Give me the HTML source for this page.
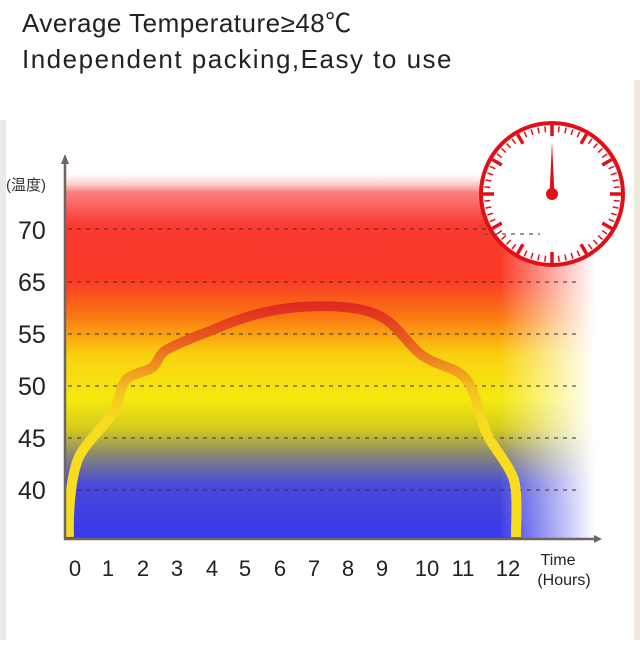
<!DOCTYPE html>
<html><head><style>
body{margin:0;width:640px;height:640px;overflow:hidden;background:#fff;font-family:"Liberation Sans","Noto Sans CJK SC",sans-serif;}
</style></head><body>
<svg width="640" height="640" viewBox="0 0 640 640" xmlns="http://www.w3.org/2000/svg">
<defs>
<linearGradient id="bands" x1="0" y1="0" x2="0" y2="1">
<stop offset="0" stop-color="#fff" stop-opacity="0"/>
<stop offset="0.06" stop-color="#fa8080"/>
<stop offset="0.15" stop-color="#fa3a30"/>
<stop offset="0.30" stop-color="#fb3b26"/>
<stop offset="0.40" stop-color="#fa7a12"/>
<stop offset="0.50" stop-color="#f9d010"/>
<stop offset="0.62" stop-color="#f5ea10"/>
<stop offset="0.70" stop-color="#d6cc1c"/>
<stop offset="0.77" stop-color="#8a8a70"/>
<stop offset="0.85" stop-color="#4a4ad8"/>
<stop offset="1" stop-color="#3838ec"/>
</linearGradient>
<linearGradient id="fade" x1="0" y1="0" x2="1" y2="0">
<stop offset="0" stop-color="#fff" stop-opacity="0"/>
<stop offset="0.82" stop-color="#fff" stop-opacity="0"/>
<stop offset="1" stop-color="#fff" stop-opacity="1"/>
</linearGradient>
<linearGradient id="curve" gradientUnits="userSpaceOnUse" x1="0" y1="305" x2="0" y2="420">
<stop offset="0" stop-color="#e02a20"/>
<stop offset="0.3" stop-color="#e85a20"/>
<stop offset="0.75" stop-color="#f4c420"/>
<stop offset="1" stop-color="#f8dc20"/>
</linearGradient>
</defs>
<rect x="0" y="80" width="640" height="560" fill="#fff"/>
<rect x="0" y="120" width="6" height="520" fill="#e8ece8"/>
<rect x="634" y="80" width="6" height="560" fill="#efe8dc"/>
<text x="22" y="32" font-size="26" fill="#222" letter-spacing="0.5">Average Temperature≥48℃</text>
<text x="22" y="68" font-size="26" fill="#222" letter-spacing="1.5">Independent packing,Easy to use</text>
<rect x="65" y="170" width="530" height="369" fill="url(#bands)"/>
<rect x="65" y="170" width="530" height="369" fill="url(#fade)"/>
<g stroke="#333" stroke-width="1.3" stroke-dasharray="4,5" opacity="0.8">
<line x1="68" y1="229" x2="580" y2="229"/>
<line x1="68" y1="282" x2="580" y2="282"/>
<line x1="68" y1="334" x2="580" y2="334"/>
<line x1="68" y1="386" x2="580" y2="386"/>
<line x1="68" y1="438" x2="580" y2="438"/>
<line x1="68" y1="490" x2="580" y2="490"/>
</g>
<path d="M69,537 C68,505 72,470 80,455 C88,440 100,432 115,410 C120,398 120,385 128,378 C136,372 148,372 154,366 C160,358 160,352 170,348 C185,340 200,335 215,329 C240,318 270,309 300,307 C330,305 360,306 380,316 C400,326 410,350 428,359 C445,368 456,368 465,378 C478,392 480,425 490,440 C502,458 510,468 514,480 C518,495 516,520 516,537" fill="none" stroke="url(#curve)" stroke-width="10" stroke-linecap="butt" stroke-linejoin="round"/>
<g stroke="#6e6460" stroke-width="2.5" fill="none">
<line x1="65" y1="160" x2="65" y2="540"/>
<line x1="64" y1="539" x2="598" y2="539"/>
</g>
<polygon points="65,154 61,164 69,164" fill="#6e6460"/>
<polygon points="602,539 594,535 594,543" fill="#6e6460"/>
<text x="6" y="190" font-size="15" fill="#333">(温度)</text>
<g font-size="25" fill="#222" text-anchor="start">
<text x="18" y="239">70</text><text x="18" y="291">65</text><text x="18" y="343">55</text>
<text x="18" y="395">50</text><text x="18" y="447">45</text><text x="18" y="499">40</text>
</g>
<g font-size="22" fill="#222" text-anchor="middle">
<text x="75" y="576">0</text><text x="108" y="576">1</text><text x="143" y="576">2</text><text x="177" y="576">3</text>
<text x="212" y="576">4</text><text x="245" y="576">5</text><text x="280" y="576">6</text><text x="314" y="576">7</text>
<text x="348" y="576">8</text><text x="382" y="576">9</text><text x="427" y="576">10</text><text x="463" y="576">11</text><text x="508" y="576">12</text>
</g>
<text x="558" y="565" font-size="16" fill="#222" text-anchor="middle">Time</text>
<text x="564" y="585" font-size="16" fill="#222" text-anchor="middle">(Hours)</text>
<g transform="translate(552,194)">
<circle r="71" fill="#fff" stroke="#e01018" stroke-width="4"/>
<line x1="-68" y1="40" x2="-12" y2="40" stroke="#555" stroke-width="1.2" stroke-dasharray="4,5"/>
<g stroke="#e01018">
<g stroke-width="1.5">
<line x1="0" y1="-68" x2="0" y2="-62" transform="rotate(6)"/><line x1="0" y1="-68" x2="0" y2="-62" transform="rotate(12)"/><line x1="0" y1="-68" x2="0" y2="-62" transform="rotate(18)"/><line x1="0" y1="-68" x2="0" y2="-62" transform="rotate(24)"/>
<line x1="0" y1="-68" x2="0" y2="-62" transform="rotate(36)"/><line x1="0" y1="-68" x2="0" y2="-62" transform="rotate(42)"/><line x1="0" y1="-68" x2="0" y2="-62" transform="rotate(48)"/><line x1="0" y1="-68" x2="0" y2="-62" transform="rotate(54)"/>
<line x1="0" y1="-68" x2="0" y2="-62" transform="rotate(66)"/><line x1="0" y1="-68" x2="0" y2="-62" transform="rotate(72)"/><line x1="0" y1="-68" x2="0" y2="-62" transform="rotate(78)"/><line x1="0" y1="-68" x2="0" y2="-62" transform="rotate(84)"/>
<line x1="0" y1="-68" x2="0" y2="-62" transform="rotate(96)"/><line x1="0" y1="-68" x2="0" y2="-62" transform="rotate(102)"/><line x1="0" y1="-68" x2="0" y2="-62" transform="rotate(108)"/><line x1="0" y1="-68" x2="0" y2="-62" transform="rotate(114)"/>
<line x1="0" y1="-68" x2="0" y2="-62" transform="rotate(126)"/><line x1="0" y1="-68" x2="0" y2="-62" transform="rotate(132)"/><line x1="0" y1="-68" x2="0" y2="-62" transform="rotate(138)"/><line x1="0" y1="-68" x2="0" y2="-62" transform="rotate(144)"/>
<line x1="0" y1="-68" x2="0" y2="-62" transform="rotate(156)"/><line x1="0" y1="-68" x2="0" y2="-62" transform="rotate(162)"/><line x1="0" y1="-68" x2="0" y2="-62" transform="rotate(168)"/><line x1="0" y1="-68" x2="0" y2="-62" transform="rotate(174)"/>
<line x1="0" y1="-68" x2="0" y2="-62" transform="rotate(186)"/><line x1="0" y1="-68" x2="0" y2="-62" transform="rotate(192)"/><line x1="0" y1="-68" x2="0" y2="-62" transform="rotate(198)"/><line x1="0" y1="-68" x2="0" y2="-62" transform="rotate(204)"/>
<line x1="0" y1="-68" x2="0" y2="-62" transform="rotate(216)"/><line x1="0" y1="-68" x2="0" y2="-62" transform="rotate(222)"/><line x1="0" y1="-68" x2="0" y2="-62" transform="rotate(228)"/><line x1="0" y1="-68" x2="0" y2="-62" transform="rotate(234)"/>
<line x1="0" y1="-68" x2="0" y2="-62" transform="rotate(246)"/><line x1="0" y1="-68" x2="0" y2="-62" transform="rotate(252)"/><line x1="0" y1="-68" x2="0" y2="-62" transform="rotate(258)"/><line x1="0" y1="-68" x2="0" y2="-62" transform="rotate(264)"/>
<line x1="0" y1="-68" x2="0" y2="-62" transform="rotate(276)"/><line x1="0" y1="-68" x2="0" y2="-62" transform="rotate(282)"/><line x1="0" y1="-68" x2="0" y2="-62" transform="rotate(288)"/><line x1="0" y1="-68" x2="0" y2="-62" transform="rotate(294)"/>
<line x1="0" y1="-68" x2="0" y2="-62" transform="rotate(306)"/><line x1="0" y1="-68" x2="0" y2="-62" transform="rotate(312)"/><line x1="0" y1="-68" x2="0" y2="-62" transform="rotate(318)"/><line x1="0" y1="-68" x2="0" y2="-62" transform="rotate(324)"/>
<line x1="0" y1="-68" x2="0" y2="-62" transform="rotate(336)"/><line x1="0" y1="-68" x2="0" y2="-62" transform="rotate(342)"/><line x1="0" y1="-68" x2="0" y2="-62" transform="rotate(348)"/><line x1="0" y1="-68" x2="0" y2="-62" transform="rotate(354)"/>
</g>
<g stroke-width="3.5">
<line x1="0" y1="-69" x2="0" y2="-58"/><line x1="0" y1="-69" x2="0" y2="-58" transform="rotate(30)"/><line x1="0" y1="-69" x2="0" y2="-58" transform="rotate(60)"/><line x1="0" y1="-69" x2="0" y2="-58" transform="rotate(90)"/>
<line x1="0" y1="-69" x2="0" y2="-58" transform="rotate(120)"/><line x1="0" y1="-69" x2="0" y2="-58" transform="rotate(150)"/><line x1="0" y1="-69" x2="0" y2="-58" transform="rotate(180)"/><line x1="0" y1="-69" x2="0" y2="-58" transform="rotate(210)"/>
<line x1="0" y1="-69" x2="0" y2="-58" transform="rotate(240)"/><line x1="0" y1="-69" x2="0" y2="-58" transform="rotate(270)"/><line x1="0" y1="-69" x2="0" y2="-58" transform="rotate(300)"/><line x1="0" y1="-69" x2="0" y2="-58" transform="rotate(330)"/>
</g>
</g>
<polygon points="0,-52 -2.5,0 2.5,0" fill="#e01018"/>
<circle r="6" fill="#e01018"/>
</g>
</svg>
</body></html>
